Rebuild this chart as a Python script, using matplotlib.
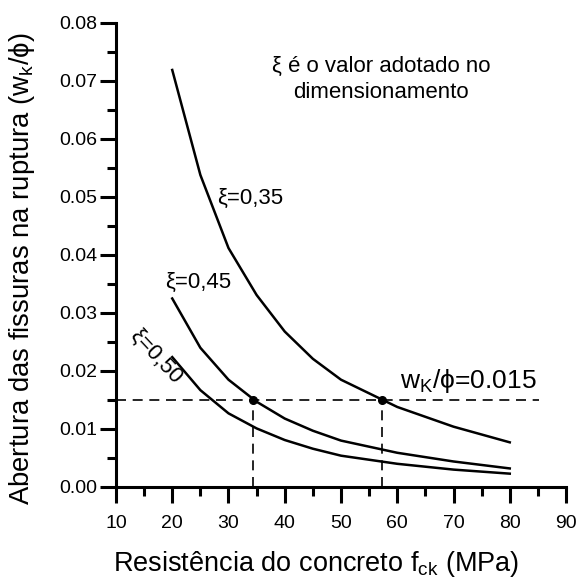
import matplotlib
matplotlib.use("Agg")
import matplotlib.pyplot as plt
from matplotlib.ticker import MultipleLocator, FormatStrFormatter

plt.rcParams['font.family'] = ['Liberation Sans', 'DejaVu Sans']
plt.rcParams['mathtext.fontset'] = 'custom'
plt.rcParams['mathtext.rm'] = 'Liberation Sans'

# fck (MPa) nodes of the curves
fck = [20, 25, 30, 35, 40, 45, 50, 60, 70, 80]
w_035 = [0.0719, 0.0538, 0.0412, 0.0331, 0.0268, 0.0221, 0.0185, 0.0138, 0.0104, 0.0077]
w_045 = [0.0325, 0.0240, 0.0185, 0.0147, 0.0118, 0.0097, 0.0080, 0.0059, 0.0044, 0.0032]
w_050 = [0.0224, 0.0167, 0.0127, 0.0101, 0.0081, 0.0066, 0.0054, 0.0040, 0.0030, 0.0023]

limit_w = 0.015
limit_x_end = 85.2
cross_fck = [34.3, 57.3]

fig = plt.figure(figsize=(5.84, 5.79), dpi=100)
ax = fig.add_axes([0.1986, 0.1589, 0.7706, 0.8014])

for w in (w_035, w_045, w_050):
    ax.plot(fck, w, color='black', lw=1.8)

dash = dict(color='black', lw=1.2, dashes=(6, 4))
ax.plot([10, limit_x_end], [limit_w, limit_w], **dash)
for xc in cross_fck:
    ax.plot([xc, xc], [0, limit_w], **dash)
ax.plot(cross_fck, [limit_w] * len(cross_fck), 'o', color='black', ms=5.5)

ax.text(27.9, 0.0498, 'ξ=0,35', fontsize=16, va='center', ha='left')
ax.text(18.7, 0.0352, 'ξ=0,45', fontsize=16, va='center', ha='left')
ax.text(17.1, 0.0224, 'ξ=0,50', fontsize=16, va='center', ha='center', rotation=-47,
        rotation_mode='anchor')
ax.text(60.5, 0.0171, r'w$_\mathregular{K}$/ϕ=0.015', fontsize=19, va='baseline', ha='left')
ax.text(57.1, 0.0702, 'ξ é o valor adotado no\ndimensionamento', fontsize=16,
        ha='center', va='center', linespacing=1.3)

ax.set_xlim(10, 90)
ax.set_ylim(0, 0.08)
ax.xaxis.set_major_locator(MultipleLocator(10))
ax.xaxis.set_minor_locator(MultipleLocator(5))
ax.yaxis.set_major_locator(MultipleLocator(0.01))
ax.yaxis.set_minor_locator(MultipleLocator(0.005))
ax.yaxis.set_major_formatter(FormatStrFormatter('%.2f'))

for side in ('top', 'right'):
    ax.spines[side].set_visible(False)
for side in ('left', 'bottom'):
    ax.spines[side].set_linewidth(2.2)

ax.tick_params(which='major', direction='out', length=11.5, width=2.2, labelsize=14)
ax.tick_params(which='minor', direction='out', length=6.5, width=2.2)
ax.tick_params(axis='x', which='major', pad=9)
ax.tick_params(axis='y', which='major', pad=2)

ax.set_xlabel(r'Resistência do concreto f$_\mathregular{ck}$ (MPa)', fontsize=19.5)
ax.set_ylabel(r'Abertura das fissuras na ruptura (w$_\mathregular{k}$/ϕ)', fontsize=19.8)
ax.xaxis.set_label_coords(0.4456, -0.133)
ax.yaxis.set_label_coords(-0.175, 0.471)

fig.savefig('out.png', dpi=100)
